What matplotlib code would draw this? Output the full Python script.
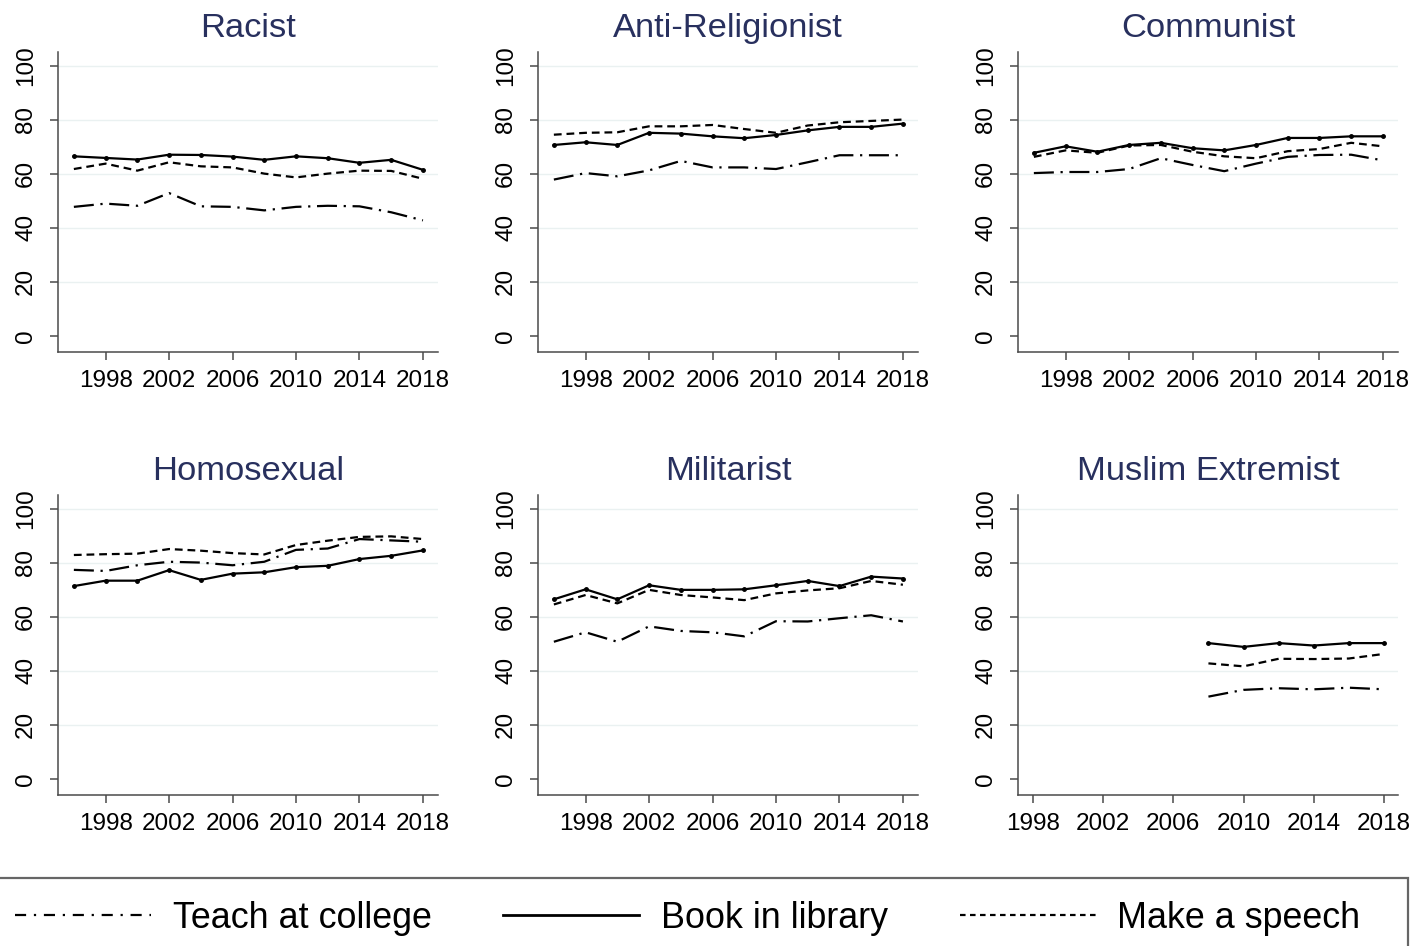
import numpy as np
import matplotlib.pyplot as plt
from matplotlib.patches import Rectangle
from matplotlib.lines import Line2D

plt.rcParams['font.family'] = ['Liberation Sans', 'DejaVu Sans']

years = np.arange(1996, 2019, 2)
years_muslim = np.arange(2008, 2019, 2)

titles = ['Racist', 'Anti-Religionist', 'Communist',
          'Homosexual', 'Militarist', 'Muslim Extremist']

# percent allowing each activity, by target group
teach_racist = [47.7, 48.9, 48.1, 52.8, 47.9, 47.7, 46.4, 47.7, 48.1, 47.9, 45.7, 42.7]
book_racist = [66.4, 65.8, 65.2, 67.0, 66.9, 66.3, 65.1, 66.4, 65.7, 64.0, 65.1, 61.4]
speech_racist = [61.7, 63.7, 61.1, 64.2, 62.7, 62.3, 60.0, 58.6, 60.0, 61.1, 61.0, 58.1]

teach_antirel = [57.8, 60.2, 59.0, 61.2, 64.7, 62.3, 62.3, 61.7, 64.2, 66.8, 66.8, 66.8]
book_antirel = [70.6, 71.6, 70.6, 75.1, 74.8, 73.8, 73.1, 74.3, 76.0, 77.3, 77.3, 78.5]
speech_antirel = [74.4, 75.1, 75.3, 77.5, 77.5, 78.0, 76.5, 75.1, 77.8, 79.0, 79.5, 80.0]

teach_commun = [60.2, 60.6, 60.6, 61.7, 65.7, 63.2, 60.9, 63.7, 66.2, 66.9, 67.0, 64.9]
book_commun = [67.7, 70.1, 68.1, 70.6, 71.4, 69.4, 68.6, 70.6, 73.2, 73.2, 73.8, 73.8]
speech_commun = [66.2, 68.6, 67.7, 70.4, 70.6, 68.1, 66.4, 65.7, 68.3, 69.1, 71.4, 70.1]

teach_homo = [77.3, 76.9, 79.0, 80.3, 80.0, 79.0, 80.3, 84.7, 85.2, 88.7, 88.2, 87.7]
book_homo = [71.3, 73.3, 73.3, 77.2, 73.6, 75.9, 76.4, 78.3, 78.8, 81.3, 82.5, 84.5]
speech_homo = [82.8, 83.1, 83.3, 85.0, 84.4, 83.5, 83.0, 86.5, 88.1, 89.5, 89.7, 88.7]

teach_milit = [50.7, 54.2, 50.7, 56.4, 54.7, 54.2, 52.7, 58.3, 58.2, 59.4, 60.5, 58.2]
book_milit = [66.4, 70.1, 66.4, 71.6, 69.9, 69.9, 70.1, 71.6, 73.2, 71.3, 74.8, 74.1]
speech_milit = [64.5, 68.0, 64.9, 69.9, 68.0, 67.1, 66.1, 68.6, 69.7, 70.5, 73.2, 71.8]

teach_muslim = [30.4, 32.9, 33.5, 33.1, 33.7, 33.1]
book_muslim = [50.2, 48.8, 50.2, 49.3, 50.2, 50.2]
speech_muslim = [42.7, 41.6, 44.4, 44.3, 44.5, 46.2]

panels = [
    (years, teach_racist, book_racist, speech_racist),
    (years, teach_antirel, book_antirel, speech_antirel),
    (years, teach_commun, book_commun, speech_commun),
    (years, teach_homo, book_homo, speech_homo),
    (years, teach_milit, book_milit, speech_milit),
    (years_muslim, teach_muslim, book_muslim, speech_muslim),
]

W, H = 1414, 946
fig = plt.figure(figsize=(W / 100, H / 100), dpi=100)

lefts = [58, 538, 1018]
tops = [52, 495]
aw, ah = 380, 300

title_color = '#28305e'
spine_color = '#4a4a4a'
lw = 1.6
dashdot = (0, (9, 3, 1, 3))
dashed = (0, (3.5, 2.2))

for i, (yrs, teach, book, speech) in enumerate(panels):
    r, c = divmod(i, 3)
    ax = fig.add_axes([lefts[c] / W, 1 - (tops[r] + ah) / H, aw / W, ah / H])
    for yv in [20, 40, 60, 80, 100]:
        ax.axhline(yv, color='#eaf1f1', lw=1.0, zorder=0)
    ax.plot(yrs, teach, color='black', lw=lw, ls=dashdot)
    ax.plot(yrs, book, color='black', lw=lw, ls='-', marker='o', ms=2.5)
    ax.plot(yrs, speech, color='black', lw=lw, ls=dashed)

    ax.set_ylim(-6, 105)
    if i == 5:
        ax.set_xlim(1997.15, 2018.8)
    else:
        ax.set_xlim(1995.0, 2018.95)
    ax.set_xticks(range(1998, 2019, 4))
    ax.set_yticks(range(0, 101, 20))

    for s in ['top', 'right']:
        ax.spines[s].set_visible(False)
    for s in ['left', 'bottom']:
        ax.spines[s].set_color(spine_color)
        ax.spines[s].set_linewidth(1.1)
    ax.tick_params(axis='both', direction='out', length=6, width=1.1,
                   color=spine_color, labelsize=17.5)
    ax.tick_params(axis='y', pad=9, labelrotation=90)
    ax.tick_params(axis='x', pad=7)
    for lab in ax.get_yticklabels():
        lab.set_va('center')
    ax.set_title(titles[i], fontsize=24.8, color=title_color, pad=11)

handles = [Line2D([], [], color='black', lw=lw, ls=(0, (5, 3.5, 1, 3.5))),
           Line2D([], [], color='black', lw=lw + 0.4, ls='-'),
           Line2D([], [], color='black', lw=lw, ls=(0, (2.5, 2)))]
fig.legend(handles, ['Teach at college', 'Book in library', 'Make a speech'],
           loc='center left', bbox_to_anchor=(15 / W, 1 - 918 / H),
           ncol=3, frameon=False, fontsize=25.8, handlelength=3.8,
           handletextpad=0.6, columnspacing=2.0, borderpad=0,
           borderaxespad=0)

fig.patches.append(Rectangle((-0.01, -0.05), 1408 / W + 0.01, 0.05 + 1 - 878 / H,
                             transform=fig.transFigure, fill=False,
                             edgecolor='#666666', lw=1.6))

fig.savefig('out.png', dpi=100)
